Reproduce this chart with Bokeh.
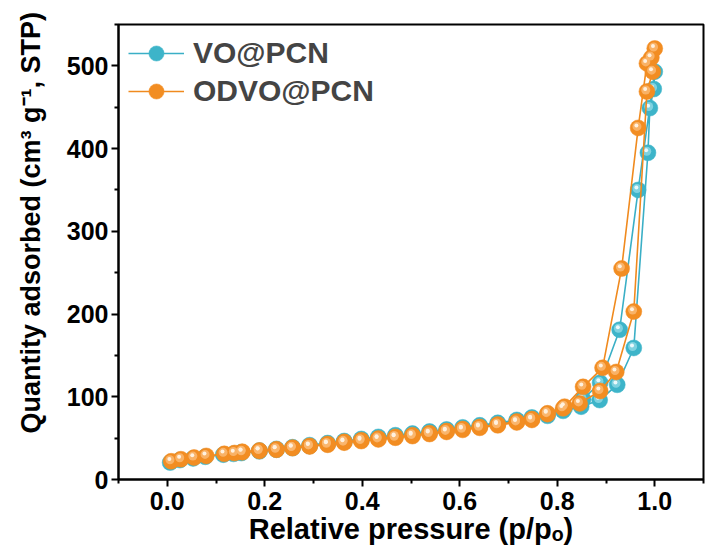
from bokeh.plotting import figure
from bokeh.models import Range1d, FixedTicker, Legend, LegendItem, NumeralTickFormatter, Title
from bokeh.transform import dodge
from bokeh.embed import file_html
from bokeh.resources import INLINE

# ---------------- data ----------------
# VO@PCN (cyan) adsorption / desorption branches
vo_ads_x = [0.006, 0.026, 0.053, 0.078, 0.115, 0.136, 0.152, 0.189, 0.224, 0.257, 0.292, 0.329,
            0.363, 0.398, 0.433, 0.468, 0.503, 0.538, 0.573, 0.606, 0.641, 0.678, 0.717, 0.748,
            0.780, 0.812, 0.849, 0.887, 0.923, 0.957, 0.986, 0.990, 0.998, 1.000]
vo_ads_y = [20.5, 23.5, 25.5, 27.5, 30.0, 31.0, 32.0, 34.0, 36.0, 38.0, 40.5, 43.0,
            45.5, 48.0, 50.5, 52.5, 54.5, 57.0, 59.5, 62.0, 64.5, 67.5, 71.0, 74.0,
            77.0, 83.0, 88.0, 96.0, 114.5, 159.0, 395.0, 449.0, 472.0, 493.0]
vo_des_x = [0.966, 0.928, 0.888, 0.853, 0.815, 0.780, 0.748, 0.717, 0.678, 0.641, 0.606, 0.573,
            0.538, 0.503, 0.468, 0.433, 0.398, 0.363, 0.329, 0.292, 0.257, 0.224, 0.189, 0.152]
vo_des_y = [350.0, 181.0, 117.0, 97.0, 86.0, 79.0, 75.0, 72.0, 68.5, 65.5, 63.0, 60.5,
            58.0, 55.5, 53.5, 51.5, 49.0, 46.5, 44.0, 41.5, 39.0, 37.0, 35.0, 33.0]

# ODVO@PCN (orange) adsorption / desorption branches
od_ads_x = [0.008, 0.028, 0.055, 0.080, 0.117, 0.138, 0.154, 0.189, 0.224, 0.257, 0.292, 0.329,
            0.363, 0.398, 0.433, 0.468, 0.503, 0.538, 0.573, 0.606, 0.641, 0.678, 0.717, 0.748,
            0.780, 0.812, 0.846, 0.888, 0.921, 0.957, 0.984, 0.996, 1.000]
od_ads_y = [22.0, 24.5, 26.5, 28.5, 31.0, 32.0, 33.0, 34.5, 36.0, 38.0, 40.0, 42.0,
            44.5, 46.5, 48.5, 50.5, 52.5, 55.0, 57.5, 60.0, 62.5, 65.5, 69.0, 72.0,
            79.0, 86.0, 92.0, 107.0, 130.0, 203.0, 469.0, 493.0, 521.0]
od_des_x = [0.993, 0.984, 0.966, 0.932, 0.893, 0.853, 0.815, 0.780, 0.748, 0.717, 0.678, 0.641,
            0.606, 0.573, 0.538, 0.503, 0.468, 0.433, 0.398, 0.363, 0.329, 0.292, 0.257, 0.224,
            0.189, 0.154]
od_des_y = [510.0, 503.0, 425.0, 255.0, 135.0, 112.0, 88.0, 80.0, 73.0, 70.0, 66.5, 63.5,
            61.0, 58.5, 56.0, 53.5, 51.5, 49.5, 47.5, 45.5, 43.0, 40.5, 38.5, 36.5,
            35.0, 33.5]

series_names = ["VO@PCN", "ODVO@PCN"]
x_ticks = [0.0, 0.2, 0.4, 0.6, 0.8, 1.0]
y_ticks = [0, 100, 200, 300, 400, 500]
x_title = "Relative pressure (p/pₒ)"
y_title = "Quantity adsorbed (cm³ g⁻¹, STP)"

# ---------------- figure ----------------
FONT = "Liberation Sans"
p = figure(width=707, height=556, output_backend="svg", toolbar_location=None,
           x_range=Range1d(-0.1, 1.1), y_range=Range1d(0, 550),
           min_border_left=118, min_border_right=4, min_border_top=24, min_border_bottom=77,
           background_fill_color="white", border_fill_color="white")
p.xgrid.visible = False
p.ygrid.visible = False
p.outline_line_color = "black"
p.outline_line_width = 2

px_x = 1.2 / 585.0
px_y = 550.0 / 455.0

styles = [
    dict(base="#3DB4C9", mid="#86D5E2", hi="#EAF9FC", line="#3AAFC6"),
    dict(base="#F28D22", mid="#F9B66E", hi="#FFF1DF", line="#F08A1E"),
]
data = [(vo_ads_x + vo_des_x, vo_ads_y + vo_des_y), (od_ads_x + od_des_x, od_ads_y + od_des_y)]

items = []
for name, (xs, ys), st in zip(series_names, data, styles):
    src = dict(x=xs, y=ys)
    ln = p.line("x", "y", source=src, line_color=st["line"], line_width=1.6)
    base = p.scatter("x", "y", source=src, size=16, fill_color=st["base"], line_color=st["base"],
                     line_width=0.5)
    p.scatter(dodge("x", -1.2 * px_x), dodge("y", 1.5 * px_y), source=src, size=9,
              fill_color=st["mid"], line_color=None, fill_alpha=0.9)
    p.scatter(dodge("x", -1.8 * px_x), dodge("y", 2.4 * px_y), source=src, size=4,
              fill_color=st["hi"], line_color=None)
    items.append(LegendItem(label=name, renderers=[ln, base]))

legend = Legend(items=items, location="top_left", margin=0, padding=10,
                glyph_width=56, glyph_height=38, label_standoff=9, spacing=0,
                label_text_font=FONT, label_text_font_style="bold",
                label_text_font_size="30px", border_line_alpha=0, background_fill_alpha=0)
p.add_layout(legend)

p.xaxis.ticker = FixedTicker(ticks=x_ticks, minor_ticks=[-0.1, 0.1, 0.3, 0.5, 0.7, 0.9, 1.1])
p.yaxis.ticker = FixedTicker(ticks=y_ticks, minor_ticks=[50, 150, 250, 350, 450, 550])
p.xaxis.formatter = NumeralTickFormatter(format="0.0")

for ax in (p.xaxis[0], p.yaxis[0]):
    ax.axis_line_width = 2
    ax.major_tick_line_width = 2
    ax.minor_tick_line_width = 2
    ax.major_tick_in = 0
    ax.major_tick_out = 7
    ax.minor_tick_in = 0
    ax.minor_tick_out = 4
    ax.major_label_text_font = FONT
    ax.major_label_text_font_style = "bold"
    ax.major_label_text_font_size = "25px"
    ax.major_label_text_color = "black"
    ax.axis_label_text_font = FONT
    ax.axis_label_text_font_style = "bold"
    ax.axis_label_text_color = "black"

p.xaxis.axis_label = x_title
p.xaxis.axis_label_text_font_size = "29px"
p.xaxis.major_label_standoff = 5
p.xaxis.axis_label_standoff = 0
p.yaxis.major_label_standoff = 3

# y title as a side-panel title so it can be shifted like the reference
ytitle = Title(text=y_title, align="left", offset=46, vertical_align="top", standoff=31,
               text_font=FONT, text_font_style="bold", text_font_size="27px",
               text_color="black")
p.add_layout(ytitle, "left")

open("out.html", "w").write(file_html(p, INLINE))
